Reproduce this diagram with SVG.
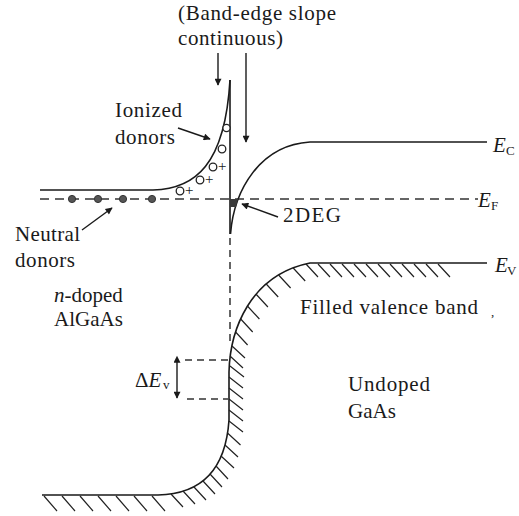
<svg xmlns="http://www.w3.org/2000/svg" width="519" height="516" viewBox="0 0 519 516">
<style>
.ln{fill:none;stroke:#1a1a1a;stroke-width:1.6}
.dash{fill:none;stroke:#333;stroke-width:1.6;stroke-dasharray:9 6}
.dashs{fill:none;stroke:#333;stroke-width:1.5;stroke-dasharray:7 5}
.hatch{fill:none;stroke:#222;stroke-width:1.2}
.arr{fill:none;stroke:#1a1a1a;stroke-width:1.4}
.t{font-family:"Liberation Serif","Times New Roman",serif;font-size:21px;fill:#1a1a1a}
.it{font-style:italic}
.sub{font-size:13px}
.pl{font-size:15px}
.ion{fill:#fff;stroke:#222;stroke-width:1.3}
.neu{fill:#555;stroke:#333;stroke-width:1}
</style>
<defs>
<marker id="ah" viewBox="0 0 10 10" refX="9" refY="5" markerUnits="userSpaceOnUse" markerWidth="11" markerHeight="7" orient="auto">
<path d="M0,0 L10,5 L0,10 z" fill="#1a1a1a"/>
</marker>
<marker id="ahs" viewBox="0 0 10 10" refX="1" refY="5" markerUnits="userSpaceOnUse" markerWidth="11" markerHeight="7" orient="auto-start-reverse">
<path d="M0,0 L10,5 L0,10 z" fill="#1a1a1a"/>
</marker>
</defs>
<rect width="519" height="516" fill="#fff"/>

<g id="caption">
<text class="t" x="178" y="20" textLength="158" lengthAdjust="spacing">(Band-edge slope</text>
<text class="t" x="178" y="45" textLength="105" lengthAdjust="spacing">continuous)</text>
</g>

<g id="fermi-level">
<path class="dash" d="M40 199 H478"/>
<text class="t it" x="478" y="207">E</text><text class="t sub" x="491" y="210">F</text>
</g>

<g id="algaas-conduction-band">
<path class="ln" d="M40 190 L153 190 C195 189 225 165 230 80"/>
</g>

<g id="interface">
<path class="ln" d="M230 80 V234"/>
<path class="dashs" d="M230 238 V345"/>
</g>

<g id="gaas-conduction-band">
<path class="ln" d="M230.5 234 C234 190 260 145 310 142 L487 142"/>
<text class="t it" x="493" y="152">E</text><text class="t sub" x="506" y="155">C</text>
</g>

<g id="twodeg">
<polygon points="230,199 238,199 236,207 230,207" fill="#3a3a3a"/>
<text class="t" x="283" y="222" textLength="58" lengthAdjust="spacing">2DEG</text>
</g>

<g id="ionized-donors">
<circle class="ion" cx="226.5" cy="128" r="3.6"/>
<circle class="ion" cx="222" cy="149" r="3.8"/>
<circle class="ion" cx="213" cy="167" r="3.8"/>
<text class="t pl" x="218" y="171">+</text>
<circle class="ion" cx="200" cy="180" r="3.8"/>
<text class="t pl" x="205" y="184">+</text>
<circle class="ion" cx="180" cy="191" r="3.8"/>
<text class="t pl" x="185" y="195">+</text>
<text class="t" x="115" y="117" textLength="67" lengthAdjust="spacing">Ionized</text>
<text class="t" x="115" y="144" textLength="60" lengthAdjust="spacing">donors</text>
</g>

<g id="neutral-donors">
<circle class="neu" cx="72" cy="199" r="3.6"/>
<circle class="neu" cx="98" cy="199" r="3.6"/>
<circle class="neu" cx="123" cy="199" r="3.6"/>
<circle class="neu" cx="152" cy="199" r="3.6"/>
<text class="t" x="15" y="241" textLength="65" lengthAdjust="spacing">Neutral</text>
<text class="t" x="15" y="267" textLength="60" lengthAdjust="spacing">donors</text>
</g>

<g id="algaas-label">
<text class="t" x="54" y="302"><tspan class="it">n</tspan>-doped</text>
<text class="t" x="54" y="326">AlGaAs</text>
</g>

<g id="valence-band">
<path class="ln" d="M42 495 L158 495 C205 494 226 465 229 420 L229 372 C230 330 250 275 310 263 L487 263"/>
<path class="hatch" d="M44 496 l13 15 M62 496 l13 15 M80 496 l13 15 M98 496 l13 15 M116 496 l13 15 M134 496 l13 15 M152 496 l13 15
M171 494 l12 13 M183 491 l12 13 M194 487 l12 13 M203 481 l12 13 M210 474 l12 13 M216 466 l12 13 M221 456 l13 12 M225 445 l13 12 M227.5 433 l13 12 M229 421 l14 11
M229 410 l14 11 M229 399 l14 11 M229 388 l14 11 M229 377 l14 11 M230 366 l14 11
M230 356 l13 12 M232 346 l13 12 M235.6 332 l12 13 M240.7 319 l12 13 M247.4 306 l12 13 M255.9 294 l12 13 M266.2 284 l12 13 M278.6 275 l12 13 M293.2 268 l12 13 M306 264 l12 13
M318 264 l12 13 M330 264 l12 13 M342 264 l12 13 M354 264 l12 13 M366 264 l12 13 M378 264 l12 13 M390 264 l12 13 M402 264 l12 13 M414 264 l12 13 M426 264 l12 13 M438 264 l12 13"/>
<text class="t it" x="495" y="272">E</text><text class="t sub" x="507" y="275">V</text>
<text class="t" x="300" y="314" textLength="178" lengthAdjust="spacing">Filled valence band</text>
<text class="t sub" x="491" y="316">,</text>
</g>

<g id="gaas-label">
<text class="t" x="348" y="391" textLength="82" lengthAdjust="spacing">Undoped</text>
<text class="t" x="348" y="418">GaAs</text>
</g>

<g id="delta-ev">
<path class="dashs" d="M185 360 H228 M187 399 H228"/>
<text class="t" x="135" y="387">Δ<tspan class="it">E</tspan></text><text class="t sub" x="163" y="389">v</text>
</g>

<g id="connectors">
<path class="arr" d="M218 53 V85" marker-end="url(#ah)"/>
<path class="arr" d="M246 53 V142" marker-end="url(#ah)"/>
<path class="arr" d="M178 128 L210 139" marker-end="url(#ah)"/>
<path class="arr" d="M82 230 L112 208" marker-end="url(#ah)"/>
<path class="arr" d="M278 217 L242 204" marker-end="url(#ah)"/>
<path class="arr" d="M177 362 V398" marker-start="url(#ahs)" marker-end="url(#ah)"/>
</g>
</svg>
